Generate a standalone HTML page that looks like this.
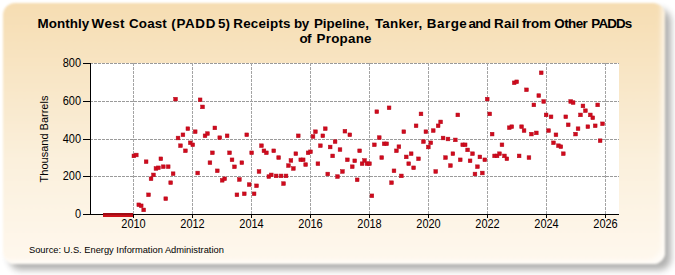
<!DOCTYPE html>
<html><head><meta charset="utf-8"><style>
html,body{margin:0;padding:0;width:675px;height:275px;overflow:hidden;background:#fff}
body{position:relative;font-family:"Liberation Sans",sans-serif}
.panel{position:absolute;left:3px;top:3px;width:662px;height:261px;border-radius:12px;
background:linear-gradient(to bottom,#f6ddb2 0%,#fbf0dc 60%,#fff8ee 100%);
box-shadow:6px 6px 6px rgba(40,40,35,0.36), inset -6px -6px 4px -2px rgba(255,255,255,0.6);filter:blur(1px)}
.tt{position:absolute;white-space:nowrap;font-weight:bold;font-size:13.4px;line-height:15px;color:#000}
.ylab{position:absolute;left:43.5px;top:139px;transform:translate(-50%,-50%) rotate(-90deg);transform-origin:center;white-space:nowrap;font-size:11px;color:#000}
.src{position:absolute;left:29px;top:244.6px;font-size:9.3px;color:#000;white-space:nowrap}
.t{font-family:"Liberation Sans",sans-serif;font-size:11px;fill:#000}
</style></head><body>
<div class="panel"></div>
<div class="tt" style="left:37.60px;top:16px;letter-spacing:0.033px">Monthly</div><div class="tt" style="left:91.60px;top:16px;letter-spacing:0.4px">West</div><div class="tt" style="left:129.00px;top:16px;letter-spacing:0.15px">Coast</div><div class="tt" style="left:171.30px;top:16px;letter-spacing:0.65px">(PADD</div><div class="tt" style="left:218.00px;top:16px;letter-spacing:0.0px">5)</div><div class="tt" style="left:233.30px;top:16px;letter-spacing:0.2px">Receipts</div><div class="tt" style="left:294.00px;top:16px;letter-spacing:-0.4px">by</div><div class="tt" style="left:313.90px;top:16px;letter-spacing:0.0px">Pipeline,</div><div class="tt" style="left:374.90px;top:16px;letter-spacing:0.233px">Tanker,</div><div class="tt" style="left:426.80px;top:16px;letter-spacing:0.5px">Barge</div><div class="tt" style="left:468.60px;top:16px;letter-spacing:-0.7px">and</div><div class="tt" style="left:494.10px;top:16px;letter-spacing:0.2px">Rail</div><div class="tt" style="left:521.90px;top:16px;letter-spacing:-0.267px">from</div><div class="tt" style="left:554.30px;top:16px;letter-spacing:-0.55px">Other</div><div class="tt" style="left:591.30px;top:16px;letter-spacing:-0.85px">PADDs</div><div class="tt" style="left:299.60px;top:30.5px;letter-spacing:-0.8px">of</div><div class="tt" style="left:316.60px;top:30.5px;letter-spacing:0.233px">Propane</div>
<div class="ylab">Thousand Barrels</div>
<svg width="675" height="275" viewBox="0 0 675 275" style="position:absolute;left:0;top:0"><rect x="91" y="63" width="528" height="151" fill="#fff"/><path d="M90 63.5H619 M90 101.5H619 M90 139.5H619 M90 176.5H619" stroke="#9a9a9a" stroke-width="1" stroke-dasharray="3 1" fill="none" shape-rendering="crispEdges"/><path d="M133.5 63V214 M192.5 63V214 M251.5 63V214 M310.5 63V214 M369.5 63V214 M428.5 63V214 M487.5 63V214 M546.5 63V214 M605.5 63V214" stroke="#a4a4a4" stroke-width="1" stroke-dasharray="3 1" fill="none" shape-rendering="crispEdges"/><g fill="#d00a1c" stroke="#b40a1c" stroke-width="0.5"><rect x="132.01" y="154.05" width="3.7" height="3.7"/><rect x="134.46" y="153.15" width="3.7" height="3.7"/><rect x="136.92" y="202.95" width="3.7" height="3.7"/><rect x="139.37" y="203.95" width="3.7" height="3.7"/><rect x="141.83" y="208.05" width="3.7" height="3.7"/><rect x="144.28" y="159.85" width="3.7" height="3.7"/><rect x="146.73" y="192.95" width="3.7" height="3.7"/><rect x="149.19" y="176.95" width="3.7" height="3.7"/><rect x="151.64" y="173.05" width="3.7" height="3.7"/><rect x="154.10" y="166.65" width="3.7" height="3.7"/><rect x="156.55" y="165.95" width="3.7" height="3.7"/><rect x="159.00" y="156.95" width="3.7" height="3.7"/><rect x="161.46" y="164.85" width="3.7" height="3.7"/><rect x="163.91" y="196.85" width="3.7" height="3.7"/><rect x="166.37" y="164.85" width="3.7" height="3.7"/><rect x="168.82" y="180.85" width="3.7" height="3.7"/><rect x="171.27" y="171.85" width="3.7" height="3.7"/><rect x="173.73" y="97.25" width="3.7" height="3.7"/><rect x="176.18" y="136.15" width="3.7" height="3.7"/><rect x="178.64" y="143.85" width="3.7" height="3.7"/><rect x="181.09" y="132.95" width="3.7" height="3.7"/><rect x="183.55" y="148.95" width="3.7" height="3.7"/><rect x="186.00" y="126.85" width="3.7" height="3.7"/><rect x="188.45" y="140.95" width="3.7" height="3.7"/><rect x="190.91" y="142.95" width="3.7" height="3.7"/><rect x="193.36" y="129.85" width="3.7" height="3.7"/><rect x="195.82" y="171.15" width="3.7" height="3.7"/><rect x="198.27" y="97.95" width="3.7" height="3.7"/><rect x="200.72" y="105.05" width="3.7" height="3.7"/><rect x="203.18" y="133.95" width="3.7" height="3.7"/><rect x="205.63" y="131.75" width="3.7" height="3.7"/><rect x="208.09" y="160.85" width="3.7" height="3.7"/><rect x="210.54" y="150.95" width="3.7" height="3.7"/><rect x="212.99" y="126.05" width="3.7" height="3.7"/><rect x="215.45" y="168.95" width="3.7" height="3.7"/><rect x="217.90" y="135.85" width="3.7" height="3.7"/><rect x="220.36" y="178.45" width="3.7" height="3.7"/><rect x="222.81" y="176.95" width="3.7" height="3.7"/><rect x="225.26" y="133.95" width="3.7" height="3.7"/><rect x="227.72" y="150.95" width="3.7" height="3.7"/><rect x="230.17" y="157.95" width="3.7" height="3.7"/><rect x="232.63" y="164.95" width="3.7" height="3.7"/><rect x="235.08" y="192.95" width="3.7" height="3.7"/><rect x="237.53" y="177.65" width="3.7" height="3.7"/><rect x="239.99" y="160.85" width="3.7" height="3.7"/><rect x="242.44" y="191.95" width="3.7" height="3.7"/><rect x="244.90" y="132.95" width="3.7" height="3.7"/><rect x="247.35" y="182.75" width="3.7" height="3.7"/><rect x="249.80" y="150.95" width="3.7" height="3.7"/><rect x="252.26" y="191.95" width="3.7" height="3.7"/><rect x="254.71" y="183.95" width="3.7" height="3.7"/><rect x="257.17" y="169.65" width="3.7" height="3.7"/><rect x="259.62" y="143.85" width="3.7" height="3.7"/><rect x="262.08" y="148.95" width="3.7" height="3.7"/><rect x="264.53" y="150.95" width="3.7" height="3.7"/><rect x="266.98" y="174.75" width="3.7" height="3.7"/><rect x="269.44" y="173.05" width="3.7" height="3.7"/><rect x="271.89" y="148.95" width="3.7" height="3.7"/><rect x="274.35" y="174.05" width="3.7" height="3.7"/><rect x="276.80" y="155.75" width="3.7" height="3.7"/><rect x="279.25" y="174.05" width="3.7" height="3.7"/><rect x="281.71" y="181.75" width="3.7" height="3.7"/><rect x="284.16" y="174.05" width="3.7" height="3.7"/><rect x="286.62" y="163.75" width="3.7" height="3.7"/><rect x="289.07" y="158.65" width="3.7" height="3.7"/><rect x="291.52" y="166.65" width="3.7" height="3.7"/><rect x="293.98" y="151.85" width="3.7" height="3.7"/><rect x="296.43" y="133.95" width="3.7" height="3.7"/><rect x="298.89" y="157.95" width="3.7" height="3.7"/><rect x="301.34" y="157.95" width="3.7" height="3.7"/><rect x="303.79" y="162.75" width="3.7" height="3.7"/><rect x="306.25" y="150.95" width="3.7" height="3.7"/><rect x="308.70" y="149.95" width="3.7" height="3.7"/><rect x="311.16" y="134.65" width="3.7" height="3.7"/><rect x="313.61" y="129.85" width="3.7" height="3.7"/><rect x="316.06" y="161.85" width="3.7" height="3.7"/><rect x="318.52" y="143.85" width="3.7" height="3.7"/><rect x="320.97" y="133.95" width="3.7" height="3.7"/><rect x="323.43" y="126.85" width="3.7" height="3.7"/><rect x="325.88" y="172.15" width="3.7" height="3.7"/><rect x="328.33" y="145.15" width="3.7" height="3.7"/><rect x="330.79" y="154.05" width="3.7" height="3.7"/><rect x="333.24" y="139.75" width="3.7" height="3.7"/><rect x="335.70" y="174.75" width="3.7" height="3.7"/><rect x="338.15" y="147.75" width="3.7" height="3.7"/><rect x="340.61" y="169.65" width="3.7" height="3.7"/><rect x="343.06" y="129.35" width="3.7" height="3.7"/><rect x="345.51" y="157.95" width="3.7" height="3.7"/><rect x="347.97" y="132.95" width="3.7" height="3.7"/><rect x="350.42" y="164.85" width="3.7" height="3.7"/><rect x="352.88" y="158.95" width="3.7" height="3.7"/><rect x="355.33" y="177.95" width="3.7" height="3.7"/><rect x="357.78" y="148.95" width="3.7" height="3.7"/><rect x="360.24" y="161.85" width="3.7" height="3.7"/><rect x="362.69" y="158.65" width="3.7" height="3.7"/><rect x="365.15" y="161.85" width="3.7" height="3.7"/><rect x="367.60" y="161.85" width="3.7" height="3.7"/><rect x="370.05" y="193.95" width="3.7" height="3.7"/><rect x="372.51" y="142.95" width="3.7" height="3.7"/><rect x="374.96" y="109.85" width="3.7" height="3.7"/><rect x="377.42" y="135.75" width="3.7" height="3.7"/><rect x="379.87" y="155.75" width="3.7" height="3.7"/><rect x="382.32" y="141.95" width="3.7" height="3.7"/><rect x="384.78" y="141.95" width="3.7" height="3.7"/><rect x="387.23" y="105.95" width="3.7" height="3.7"/><rect x="389.69" y="180.85" width="3.7" height="3.7"/><rect x="392.14" y="168.95" width="3.7" height="3.7"/><rect x="394.59" y="148.95" width="3.7" height="3.7"/><rect x="397.05" y="144.85" width="3.7" height="3.7"/><rect x="399.50" y="174.05" width="3.7" height="3.7"/><rect x="401.96" y="129.85" width="3.7" height="3.7"/><rect x="404.41" y="155.05" width="3.7" height="3.7"/><rect x="406.86" y="161.85" width="3.7" height="3.7"/><rect x="409.32" y="151.85" width="3.7" height="3.7"/><rect x="411.77" y="165.95" width="3.7" height="3.7"/><rect x="414.23" y="123.95" width="3.7" height="3.7"/><rect x="416.68" y="156.95" width="3.7" height="3.7"/><rect x="419.14" y="112.05" width="3.7" height="3.7"/><rect x="421.59" y="139.75" width="3.7" height="3.7"/><rect x="424.04" y="129.85" width="3.7" height="3.7"/><rect x="426.50" y="145.15" width="3.7" height="3.7"/><rect x="428.95" y="140.95" width="3.7" height="3.7"/><rect x="431.41" y="128.75" width="3.7" height="3.7"/><rect x="433.86" y="169.65" width="3.7" height="3.7"/><rect x="436.31" y="123.95" width="3.7" height="3.7"/><rect x="438.77" y="120.05" width="3.7" height="3.7"/><rect x="441.22" y="136.15" width="3.7" height="3.7"/><rect x="443.68" y="155.75" width="3.7" height="3.7"/><rect x="446.13" y="137.15" width="3.7" height="3.7"/><rect x="448.58" y="163.75" width="3.7" height="3.7"/><rect x="451.04" y="151.85" width="3.7" height="3.7"/><rect x="453.49" y="138.05" width="3.7" height="3.7"/><rect x="455.95" y="113.05" width="3.7" height="3.7"/><rect x="458.40" y="157.95" width="3.7" height="3.7"/><rect x="460.85" y="142.95" width="3.7" height="3.7"/><rect x="463.31" y="142.95" width="3.7" height="3.7"/><rect x="465.76" y="148.05" width="3.7" height="3.7"/><rect x="468.22" y="158.95" width="3.7" height="3.7"/><rect x="470.67" y="151.85" width="3.7" height="3.7"/><rect x="473.12" y="172.15" width="3.7" height="3.7"/><rect x="475.58" y="164.85" width="3.7" height="3.7"/><rect x="478.03" y="155.05" width="3.7" height="3.7"/><rect x="480.49" y="171.15" width="3.7" height="3.7"/><rect x="482.94" y="157.95" width="3.7" height="3.7"/><rect x="485.39" y="97.25" width="3.7" height="3.7"/><rect x="487.85" y="112.05" width="3.7" height="3.7"/><rect x="490.30" y="132.25" width="3.7" height="3.7"/><rect x="492.76" y="154.05" width="3.7" height="3.7"/><rect x="495.21" y="154.05" width="3.7" height="3.7"/><rect x="497.66" y="151.85" width="3.7" height="3.7"/><rect x="500.12" y="142.95" width="3.7" height="3.7"/><rect x="502.57" y="154.05" width="3.7" height="3.7"/><rect x="505.03" y="156.95" width="3.7" height="3.7"/><rect x="507.48" y="125.85" width="3.7" height="3.7"/><rect x="509.94" y="124.85" width="3.7" height="3.7"/><rect x="512.39" y="80.95" width="3.7" height="3.7"/><rect x="514.84" y="79.95" width="3.7" height="3.7"/><rect x="517.30" y="154.05" width="3.7" height="3.7"/><rect x="519.75" y="124.85" width="3.7" height="3.7"/><rect x="522.21" y="128.75" width="3.7" height="3.7"/><rect x="524.66" y="87.95" width="3.7" height="3.7"/><rect x="527.11" y="155.75" width="3.7" height="3.7"/><rect x="529.57" y="132.25" width="3.7" height="3.7"/><rect x="532.02" y="103.05" width="3.7" height="3.7"/><rect x="534.48" y="131.05" width="3.7" height="3.7"/><rect x="536.93" y="93.75" width="3.7" height="3.7"/><rect x="539.38" y="70.95" width="3.7" height="3.7"/><rect x="541.84" y="99.65" width="3.7" height="3.7"/><rect x="544.29" y="113.05" width="3.7" height="3.7"/><rect x="546.75" y="128.75" width="3.7" height="3.7"/><rect x="549.20" y="114.95" width="3.7" height="3.7"/><rect x="551.65" y="140.95" width="3.7" height="3.7"/><rect x="554.11" y="132.95" width="3.7" height="3.7"/><rect x="556.56" y="143.85" width="3.7" height="3.7"/><rect x="559.02" y="144.85" width="3.7" height="3.7"/><rect x="561.47" y="151.85" width="3.7" height="3.7"/><rect x="563.92" y="114.95" width="3.7" height="3.7"/><rect x="566.38" y="122.95" width="3.7" height="3.7"/><rect x="568.83" y="99.65" width="3.7" height="3.7"/><rect x="571.29" y="100.75" width="3.7" height="3.7"/><rect x="573.74" y="132.25" width="3.7" height="3.7"/><rect x="576.19" y="126.85" width="3.7" height="3.7"/><rect x="578.65" y="113.05" width="3.7" height="3.7"/><rect x="581.10" y="104.05" width="3.7" height="3.7"/><rect x="583.56" y="108.85" width="3.7" height="3.7"/><rect x="586.01" y="124.85" width="3.7" height="3.7"/><rect x="588.47" y="113.05" width="3.7" height="3.7"/><rect x="590.92" y="115.95" width="3.7" height="3.7"/><rect x="593.37" y="123.95" width="3.7" height="3.7"/><rect x="595.83" y="103.05" width="3.7" height="3.7"/><rect x="598.28" y="138.85" width="3.7" height="3.7"/><rect x="600.74" y="121.95" width="3.7" height="3.7"/></g><path d="M90.5 63V215 M83 214.5H619 M83 63.5H90 M83 101.5H90 M83 139.5H90 M83 176.5H90 M83 214.5H90 M133.5 214V218 M192.5 214V218 M251.5 214V218 M310.5 214V218 M369.5 214V218 M428.5 214V218 M487.5 214V218 M546.5 214V218 M605.5 214V218" stroke="#000" stroke-width="1" fill="none" shape-rendering="crispEdges"/><rect x="103" y="213" width="30" height="4" fill="#cc121a"/><rect x="103" y="213" width="30" height="2" fill="#a00e16"/><text transform="translate(81 67.2) scale(1 1.12)" text-anchor="end" class="t">800</text><text transform="translate(81 105.2) scale(1 1.12)" text-anchor="end" class="t">600</text><text transform="translate(81 143.2) scale(1 1.12)" text-anchor="end" class="t">400</text><text transform="translate(81 180.2) scale(1 1.12)" text-anchor="end" class="t">200</text><text transform="translate(81 218.2) scale(1 1.12)" text-anchor="end" class="t">0</text><text transform="translate(133.5 227.5) scale(1 1.12)" text-anchor="middle" class="t">2010</text><text transform="translate(192.5 227.5) scale(1 1.12)" text-anchor="middle" class="t">2012</text><text transform="translate(251.5 227.5) scale(1 1.12)" text-anchor="middle" class="t">2014</text><text transform="translate(310.5 227.5) scale(1 1.12)" text-anchor="middle" class="t">2016</text><text transform="translate(369.5 227.5) scale(1 1.12)" text-anchor="middle" class="t">2018</text><text transform="translate(428.5 227.5) scale(1 1.12)" text-anchor="middle" class="t">2020</text><text transform="translate(487.5 227.5) scale(1 1.12)" text-anchor="middle" class="t">2022</text><text transform="translate(546.5 227.5) scale(1 1.12)" text-anchor="middle" class="t">2024</text><text transform="translate(605.5 227.5) scale(1 1.12)" text-anchor="middle" class="t">2026</text></svg>
<div class="src">Source: U.S. Energy Information Administration</div>
</body></html>
